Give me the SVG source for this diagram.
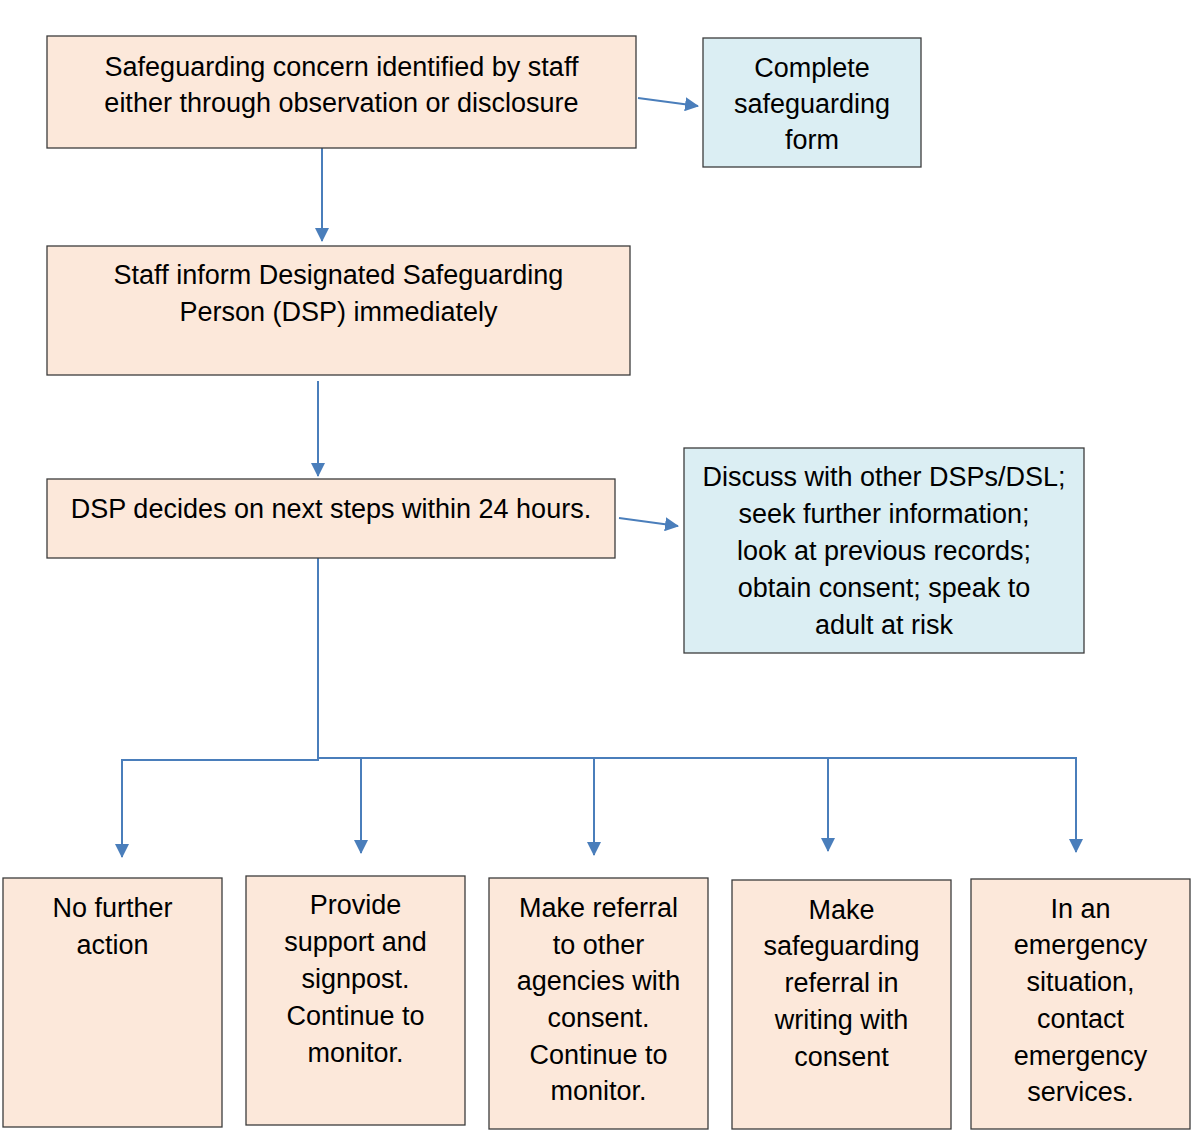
<svg xmlns="http://www.w3.org/2000/svg" width="1192" height="1132" viewBox="0 0 1192 1132">
<style>
.box{stroke:#3c3c3c;stroke-width:1.3}
.peach{fill:#FCE8DA}
.blue{fill:#DBEEF3}
text{font-family:"Liberation Sans",Arial,sans-serif;font-size:27px;fill:#000;text-anchor:middle}
.c{fill:none;stroke:#4A7EBB;stroke-width:2}
</style>
<defs>
<marker id="ah" markerUnits="userSpaceOnUse" markerWidth="14" markerHeight="14" refX="13" refY="7" orient="auto">
<path d="M0,0 L14,7 L0,14 z" fill="#4A7EBB"/>
</marker>
</defs>
<rect width="1192" height="1132" fill="#fff"/>
<g id="connectors">
<path class="c" d="M638,98 L698,106" marker-end="url(#ah)"/>
<path class="c" d="M322,148 V241" marker-end="url(#ah)"/>
<path class="c" d="M318,381 V476" marker-end="url(#ah)"/>
<path class="c" d="M619,518 L678,526" marker-end="url(#ah)"/>
<path class="c" d="M318,558 V760 H122 V857" marker-end="url(#ah)"/>
<path class="c" d="M318,758 H1076 V852" marker-end="url(#ah)"/>
<path class="c" d="M361,758 V853" marker-end="url(#ah)"/>
<path class="c" d="M594,758 V855" marker-end="url(#ah)"/>
<path class="c" d="M828,758 V851" marker-end="url(#ah)"/>
</g>
<g id="concern">
<rect class="box peach" x="47" y="36" width="589" height="112"/>
<text x="341.5" y="76">Safeguarding concern identified by staff</text>
<text x="341.5" y="112">either through observation or disclosure</text>
</g>
<g id="form">
<rect class="box blue" x="703" y="38" width="218" height="129"/>
<text x="812" y="77">Complete</text>
<text x="812" y="113">safeguarding</text>
<text x="812" y="149">form</text>
</g>
<g id="inform">
<rect class="box peach" x="47" y="246" width="583" height="129"/>
<text x="338.5" y="284">Staff inform Designated Safeguarding</text>
<text x="338.5" y="321">Person (DSP) immediately</text>
</g>
<g id="decides">
<rect class="box peach" x="47" y="479" width="568" height="79"/>
<text x="331" y="518">DSP decides on next steps within 24 hours.</text>
</g>
<g id="discuss">
<rect class="box blue" x="684" y="448" width="400" height="205"/>
<text x="884" y="486">Discuss with other DSPs/DSL;</text>
<text x="884" y="523">seek further information;</text>
<text x="884" y="560">look at previous records;</text>
<text x="884" y="597">obtain consent; speak to</text>
<text x="884" y="634">adult at risk</text>
</g>
<g id="nfa">
<rect class="box peach" x="3" y="878" width="219" height="249"/>
<text x="112.5" y="917">No further</text>
<text x="112.5" y="954">action</text>
</g>
<g id="support">
<rect class="box peach" x="246" y="876" width="219" height="249"/>
<text x="355.5" y="914">Provide</text>
<text x="355.5" y="951">support and</text>
<text x="355.5" y="988">signpost.</text>
<text x="355.5" y="1025">Continue to</text>
<text x="355.5" y="1062">monitor.</text>
</g>
<g id="referral">
<rect class="box peach" x="489" y="878" width="219" height="251"/>
<text x="598.5" y="917">Make referral</text>
<text x="598.5" y="954">to other</text>
<text x="598.5" y="990">agencies with</text>
<text x="598.5" y="1027">consent.</text>
<text x="598.5" y="1064">Continue to</text>
<text x="598.5" y="1100">monitor.</text>
</g>
<g id="written">
<rect class="box peach" x="732" y="880" width="219" height="249"/>
<text x="841.5" y="919">Make</text>
<text x="841.5" y="955">safeguarding</text>
<text x="841.5" y="992">referral in</text>
<text x="841.5" y="1029">writing with</text>
<text x="841.5" y="1066">consent</text>
</g>
<g id="emergency">
<rect class="box peach" x="971" y="879" width="219" height="250"/>
<text x="1080.5" y="918">In an</text>
<text x="1080.5" y="954">emergency</text>
<text x="1080.5" y="991">situation,</text>
<text x="1080.5" y="1028">contact</text>
<text x="1080.5" y="1065">emergency</text>
<text x="1080.5" y="1101">services.</text>
</g>
</svg>
